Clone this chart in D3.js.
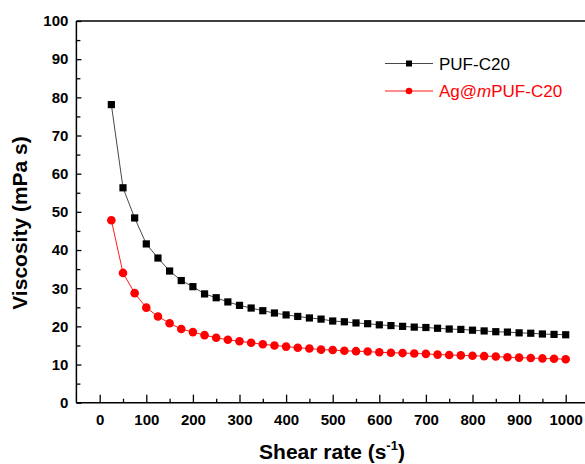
<!DOCTYPE html>
<html><head><meta charset="utf-8">
<script src="https://cdn.jsdelivr.net/npm/d3@7"></script>
<style>body{margin:0;background:#fff;} svg{display:block;}</style>
</head><body>
<script>
const shearRate = [25,50,75,100,125,150,175,200,225,250,275,300,325,350,375,400,425,450,475,500,525,550,575,600,625,650,675,700,725,750,775,800,825,850,875,900,925,950,975,1000];
const pufC20 = [78.1,56.3,48.4,41.6,37.9,34.5,32.0,30.4,28.5,27.5,26.4,25.5,24.8,24.1,23.5,23.0,22.6,22.2,21.9,21.4,21.2,20.9,20.7,20.4,20.2,20.0,19.8,19.7,19.5,19.3,19.2,19.0,18.8,18.6,18.5,18.3,18.2,18.0,17.9,17.8];
const agPufC20 = [47.8,34.0,28.7,24.9,22.6,20.8,19.3,18.5,17.7,17.0,16.5,16.1,15.7,15.3,15.0,14.7,14.4,14.2,13.9,13.8,13.6,13.5,13.4,13.2,13.1,13.0,12.9,12.8,12.6,12.5,12.4,12.3,12.2,12.1,11.9,11.8,11.7,11.6,11.5,11.4];
const xTicks = [0,100,200,300,400,500,600,700,800,900,1000];
const yTicks = [0,10,20,30,40,50,60,70,80,90,100];

const W = 585, H = 464;
const svg = d3.select("body").append("svg").attr("width", W).attr("height", H);
const x = d3.scaleLinear().domain([-50, 1050]).range([76.4, 589]);
const y = d3.scaleLinear().domain([0, 100]).range([402.7, 21]);
const font = "'Liberation Sans', Arial, sans-serif";

// top frame line
svg.append("line").attr("x1", x(-50)).attr("x2", x(1050)).attr("y1", y(100)).attr("y2", y(100))
  .attr("stroke", "#000").attr("stroke-width", 1.5);

// x axis
const xAxis = svg.append("g").attr("transform", `translate(0,${y(0)})`)
  .call(d3.axisBottom(x).tickValues(xTicks).tickSize(-8).tickPadding(12).tickFormat(d3.format("d")));
xAxis.append("g").call(d3.axisBottom(x).tickValues([50,150,250,350,450,550,650,750,850,950]).tickSize(-4).tickFormat(""));
xAxis.selectAll(".domain").remove();
xAxis.append("line").attr("x1", x(-50)).attr("x2", x(1050)).attr("stroke", "#000").attr("stroke-width", 1.5);

// y axis
const yAxis = svg.append("g").attr("transform", `translate(${x(-50)},0)`)
  .call(d3.axisLeft(y).tickValues(yTicks).tickSize(-5).tickPadding(8).tickFormat(d3.format("d")));
yAxis.append("g").call(d3.axisLeft(y).tickValues([5,15,25,35,45,55,65,75,85,95]).tickSize(-4).tickFormat(""));
yAxis.selectAll(".domain").remove();
yAxis.append("line").attr("y1", y(0)).attr("y2", y(100)).attr("stroke", "#000").attr("stroke-width", 1.5);

svg.selectAll(".tick line").attr("stroke", "#000").attr("stroke-width", 1.3);
svg.selectAll(".tick text").attr("font-family", font).attr("font-weight", "bold")
  .attr("font-size", 15).attr("fill", "#000");

// axis titles
svg.append("text").attr("x", 332).attr("y", 459).attr("text-anchor", "middle")
  .attr("font-family", font).attr("font-weight", "bold").attr("font-size", 21)
  .html('Shear rate (s<tspan dy="-9" font-size="13">-1</tspan><tspan dy="9">)</tspan>');
svg.append("text").attr("transform", "translate(27,223) rotate(-90)").attr("text-anchor", "middle")
  .attr("font-family", font).attr("font-weight", "bold").attr("font-size", 21)
  .text("Viscosity (mPa s)");

const series = [
  {name: "PUF-C20", values: pufC20, color: "#000", line: "#333", shape: "square"},
  {name: "Ag@mPUF-C20", values: agPufC20, color: "#ff0000", line: "#ff0000", shape: "circle"}
];

series.forEach(s => {
  const pts = shearRate.map((d, i) => [d, s.values[i]]);
  svg.append("path").datum(pts)
    .attr("d", d3.line().x(d => x(d[0])).y(d => y(d[1])))
    .attr("fill", "none").attr("stroke", s.line).attr("stroke-width", 0.9);
  if (s.shape === "square") {
    svg.append("g").selectAll("rect").data(pts).join("rect")
      .attr("x", d => x(d[0]) - 3.6).attr("y", d => y(d[1]) - 3.6)
      .attr("width", 7.2).attr("height", 7.2).attr("fill", s.color);
  } else {
    svg.append("g").selectAll("circle").data(pts).join("circle")
      .attr("cx", d => x(d[0])).attr("cy", d => y(d[1])).attr("r", 4.3).attr("fill", s.color);
  }
});

// legend
const leg = [{y: 63.5}, {y: 91}];
series.forEach((s, i) => {
  const ly = leg[i].y;
  svg.append("line").attr("x1", 385).attr("x2", 433).attr("y1", ly).attr("y2", ly)
    .attr("stroke", s.line).attr("stroke-width", 0.9);
  if (s.shape === "square") {
    svg.append("rect").attr("x", 409 - 3).attr("y", ly - 3).attr("width", 6).attr("height", 6).attr("fill", s.color);
  } else {
    svg.append("circle").attr("cx", 409).attr("cy", ly).attr("r", 3.3).attr("fill", s.color);
  }
  const t = svg.append("text").attr("x", 439).attr("y", ly + 6).attr("font-family", font)
    .attr("font-size", 17).attr("fill", s.color);
  if (i === 1) {
    t.html('Ag@<tspan font-style="italic">m</tspan>PUF-C20');
  } else {
    t.text(s.name);
  }
});
</script>
</body></html>
